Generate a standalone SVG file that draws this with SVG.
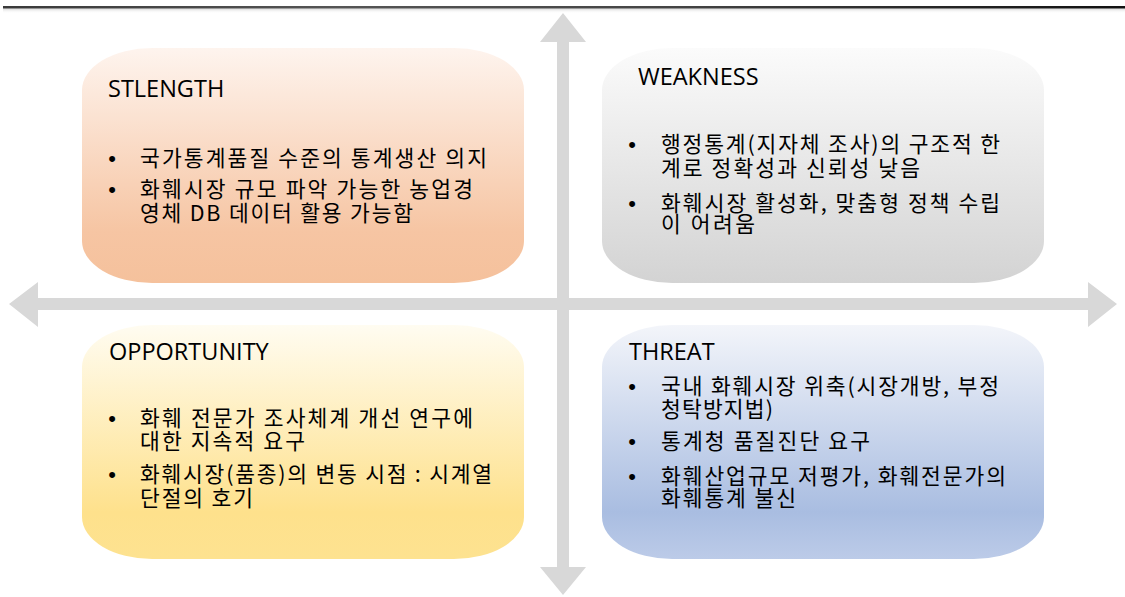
<svg xmlns="http://www.w3.org/2000/svg" width="1125" height="597" viewBox="0 0 1125 597">
<defs>
<linearGradient id="gS" x1="0" y1="0" x2="0" y2="1"><stop offset="0" stop-color="#fef4ee"/><stop offset="0.78" stop-color="#f6c5a3"/><stop offset="1" stop-color="#f5c19c"/></linearGradient>
<linearGradient id="gW" x1="0" y1="0" x2="0" y2="1"><stop offset="0" stop-color="#fbfbfb"/><stop offset="1" stop-color="#d3d3d3"/></linearGradient>
<linearGradient id="gO" x1="0" y1="0" x2="0" y2="1"><stop offset="0" stop-color="#fffcf1"/><stop offset="0.8" stop-color="#fee18c"/><stop offset="1" stop-color="#fde290"/></linearGradient>
<linearGradient id="gT" x1="0" y1="0" x2="0" y2="1"><stop offset="0" stop-color="#f3f5fa"/><stop offset="0.8" stop-color="#a9bde1"/><stop offset="1" stop-color="#bccbe8"/></linearGradient>
<linearGradient id="gLine" x1="0" y1="0" x2="1" y2="0"><stop offset="0" stop-color="#3a3a3a"/><stop offset="0.3" stop-color="#555"/><stop offset="0.6" stop-color="#444"/><stop offset="1" stop-color="#111"/></linearGradient>
<linearGradient id="gShadow" x1="0" y1="0" x2="0" y2="1"><stop offset="0" stop-color="#d8d8d8"/><stop offset="1" stop-color="#ffffff" stop-opacity="0"/></linearGradient>
<style>
.title{font-family:"Open Sans","Noto Sans CJK KR",sans-serif;font-size:23.5px;fill:#000}
.txt{font-family:"Noto Sans CJK KR","Noto Sans",sans-serif;font-size:21.5px;fill:#000}
.bul{font-family:"Liberation Sans",sans-serif;font-size:22px;fill:#000;text-anchor:middle}
.arrow{fill:#d8d8d8}
</style>
</defs>
<rect x="0" y="0" width="1125" height="597" fill="#ffffff"/>
<rect x="3" y="8.5" width="1122" height="5" fill="url(#gShadow)"/>
<rect x="3" y="6" width="1122" height="2.5" fill="url(#gLine)"/>
<g id="connectors">
<polygon class="arrow" points="563,13 586,42 569,42 569,567 586,567 563,595 540,567 557,567 557,42 540,42"/>
<polygon class="arrow" points="9,304 38,282 38,298 1088,298 1088,282 1117,304 1088,327 1088,310 38,310 38,327"/>
</g>
<g id="strength">
<rect x="82" y="48" width="442" height="235" rx="70" ry="42" fill="url(#gS)"/>
<text class="title" x="108" y="97">STLENGTH</text>
<text class="bul" x="112" y="166">•</text>
<text class="txt" x="140" y="166" textLength="347" lengthAdjust="spacing">국가통계품질 수준의 통계생산 의지</text>
<text class="bul" x="112" y="197">•</text>
<text class="txt" x="140" y="197" textLength="333" lengthAdjust="spacing">화훼시장 규모 파악 가능한 농업경</text>
<text class="txt" x="140" y="221" textLength="273" lengthAdjust="spacing">영체 DB 데이터 활용 가능함</text>
</g>
<g id="weakness">
<rect x="602" y="48" width="442" height="235" rx="70" ry="42" fill="url(#gW)"/>
<text class="title" x="638" y="85">WEAKNESS</text>
<text class="bul" x="632" y="152">•</text>
<text class="txt" x="661" y="152" textLength="339" lengthAdjust="spacing">행정통계(지자체 조사)의 구조적 한</text>
<text class="txt" x="661" y="176" textLength="259" lengthAdjust="spacing">계로 정확성과 신뢰성 낮음</text>
<text class="bul" x="632" y="211">•</text>
<text class="txt" x="661" y="211" textLength="339" lengthAdjust="spacing">화훼시장 활성화, 맞춤형 정책 수립</text>
<text class="txt" x="661" y="232" textLength="94" lengthAdjust="spacing">이 어려움</text>
</g>
<g id="opportunity">
<rect x="82" y="325" width="442" height="234" rx="70" ry="42" fill="url(#gO)"/>
<text class="title" x="109" y="360">OPPORTUNITY</text>
<text class="bul" x="112" y="426">•</text>
<text class="txt" x="140" y="426" textLength="333" lengthAdjust="spacing">화훼 전문가 조사체계 개선 연구에</text>
<text class="txt" x="140" y="449" textLength="165" lengthAdjust="spacing">대한 지속적 요구</text>
<text class="bul" x="112" y="482">•</text>
<text class="txt" x="140" y="482" textLength="352" lengthAdjust="spacing">화훼시장(품종)의 변동 시점 : 시계열</text>
<text class="txt" x="140" y="506" textLength="113" lengthAdjust="spacing">단절의 호기</text>
</g>
<g id="threat">
<rect x="602" y="325" width="442" height="234" rx="70" ry="42" fill="url(#gT)"/>
<text class="title" x="629" y="360">THREAT</text>
<text class="bul" x="632" y="394">•</text>
<text class="txt" x="661" y="394" textLength="338" lengthAdjust="spacing">국내 화훼시장 위축(시장개방, 부정</text>
<text class="txt" x="661" y="417" textLength="112" lengthAdjust="spacing">청탁방지법)</text>
<text class="bul" x="632" y="449">•</text>
<text class="txt" x="661" y="449" textLength="209" lengthAdjust="spacing">통계청 품질진단 요구</text>
<text class="bul" x="632" y="484">•</text>
<text class="txt" x="661" y="484" textLength="345" lengthAdjust="spacing">화훼산업규모 저평가, 화훼전문가의</text>
<text class="txt" x="661" y="506" textLength="135" lengthAdjust="spacing">화훼통계 불신</text>
</g>
</svg>
